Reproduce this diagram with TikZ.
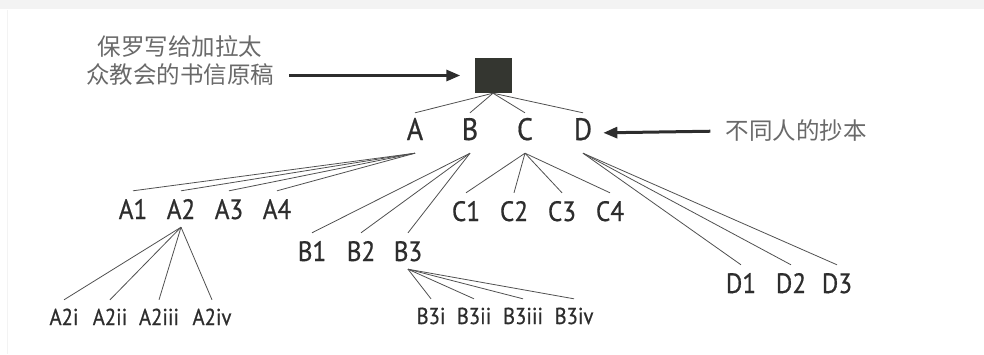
\documentclass[tikz,border=0pt]{standalone}
\usepackage{fontspec}
\setmainfont{PT Sans}[FakeStretch = 0.9, FakeBold = 0.6]
\newfontfamily\cjk{Noto Sans CJK SC}
\usetikzlibrary{arrows.meta}
\definecolor{inkgray}{RGB}{45, 45, 45}
\definecolor{linegray}{RGB}{80, 80, 80}
\definecolor{notegray}{RGB}{105, 105, 105}
\definecolor{boxdark}{RGB}{52, 54, 48}
\definecolor{framegray}{RGB}{243, 243, 243}

\begin{document}
\begin{tikzpicture}[x = 1pt, y = -1pt,
			toprow/.style = {anchor = base, inner sep = 0pt, text height = 27pt, text depth = 13pt, text = inkgray, font = \fontsize{31}{31}\selectfont},
			midrow/.style = {anchor = base, inner sep = 0pt, text height = 28pt, text depth = 8pt, text = inkgray, font = \fontsize{28}{28}\selectfont},
			lowrow/.style = {anchor = base, inner sep = 0pt, text height = 25pt, text depth = 0pt, text = inkgray, font = \fontsize{23}{23}\selectfont},
			note/.style = {inner sep = 0pt, align = center, text = notegray, font = \cjk\fontsize{23.5}{28}\selectfont},
			link/.style = {draw = linegray, line width = 0.8pt},
			pointer/.style = {draw = inkgray, line width = 3pt, -{Triangle[length = 14pt, width = 11pt]}}]
			\useasboundingbox (0,0) rectangle (984,354);
			\fill[framegray] (0,0) rectangle (984,9);
			\draw[framegray, line width = 1pt] (7,10) -- (7,354);
			\node (orig) at (493,75.5) [rectangle, fill = boxdark, minimum width = 37pt, minimum height = 35pt, inner sep = 0pt] {};
			\node (note1) at (180,61) [note] {保罗写给加拉太\\众教会的书信原稿};
			\node (note2) at (796,131) [note] {不同人的抄本};
			\node (a) at (415,140) [toprow] {A};
			\node (b) at (470,140) [toprow] {B};
			\node (c) at (525,140) [toprow] {C};
			\node (d) at (583,140) [toprow] {D};
			\node (a1) at (133,219) [midrow] {A1};
			\node (a2) at (181,219) [midrow] {A2};
			\node (a3) at (229,219) [midrow] {A3};
			\node (a4) at (277,219) [midrow] {A4};
			\node (b1) at (312,261) [midrow] {B1};
			\node (b2) at (361,261) [midrow] {B2};
			\node (b3) at (408,261) [midrow] {B3};
			\node (c1) at (466,221) [midrow] {C1};
			\node (c2) at (514,221) [midrow] {C2};
			\node (c3) at (562,221) [midrow] {C3};
			\node (c4) at (610,221) [midrow] {C4};
			\node (d1) at (741,293) [midrow] {D1};
			\node (d2) at (791,293) [midrow] {D2};
			\node (d3) at (837,293) [midrow] {D3};
			\node (a2i) at (64,325) [lowrow] {A2i};
			\node (a2ii) at (110,325) [lowrow] {A2ii};
			\node (a2iii) at (159,325) [lowrow] {A2iii};
			\node (a2iv) at (212,325) [lowrow] {A2iv};
			\node (b3i) at (431,324) [lowrow] {B3i};
			\node (b3ii) at (474,324) [lowrow] {B3ii};
			\node (b3iii) at (523,324) [lowrow] {B3iii};
			\node (b3iv) at (574,324) [lowrow] {B3iv};
			\draw[pointer] (note1.east |- orig.west) -- (orig.west) [shorten <= 15pt, shorten >= 14pt];
			\draw[pointer, shorten <= 15pt, shorten >= 11pt] (note2.west) -- (d.east);
			\draw[link] (orig.south) edge (a.north) edge (b.north) edge (c.north) edge (d.north);
			\draw[link] (a.south) edge (a1.north) edge (a2.north) edge (a3.north) edge (a4.north);
			\draw[link] (b.south) edge (b1.north) edge (b2.north) edge (b3.north);
			\draw[link] (c.south) edge (c1.north) edge (c2.north) edge (c3.north) edge (c4.north);
			\draw[link] (d.south) edge (d1.north) edge (d2.north) edge (d3.north);
			\draw[link] (a2.south) edge (a2i.north) edge (a2ii.north) edge (a2iii.north) edge (a2iv.north);
			\draw[link] (b3.south) edge (b3i.north) edge (b3ii.north) edge (b3iii.north) edge (b3iv.north);
			\end{tikzpicture}
\end{document}
